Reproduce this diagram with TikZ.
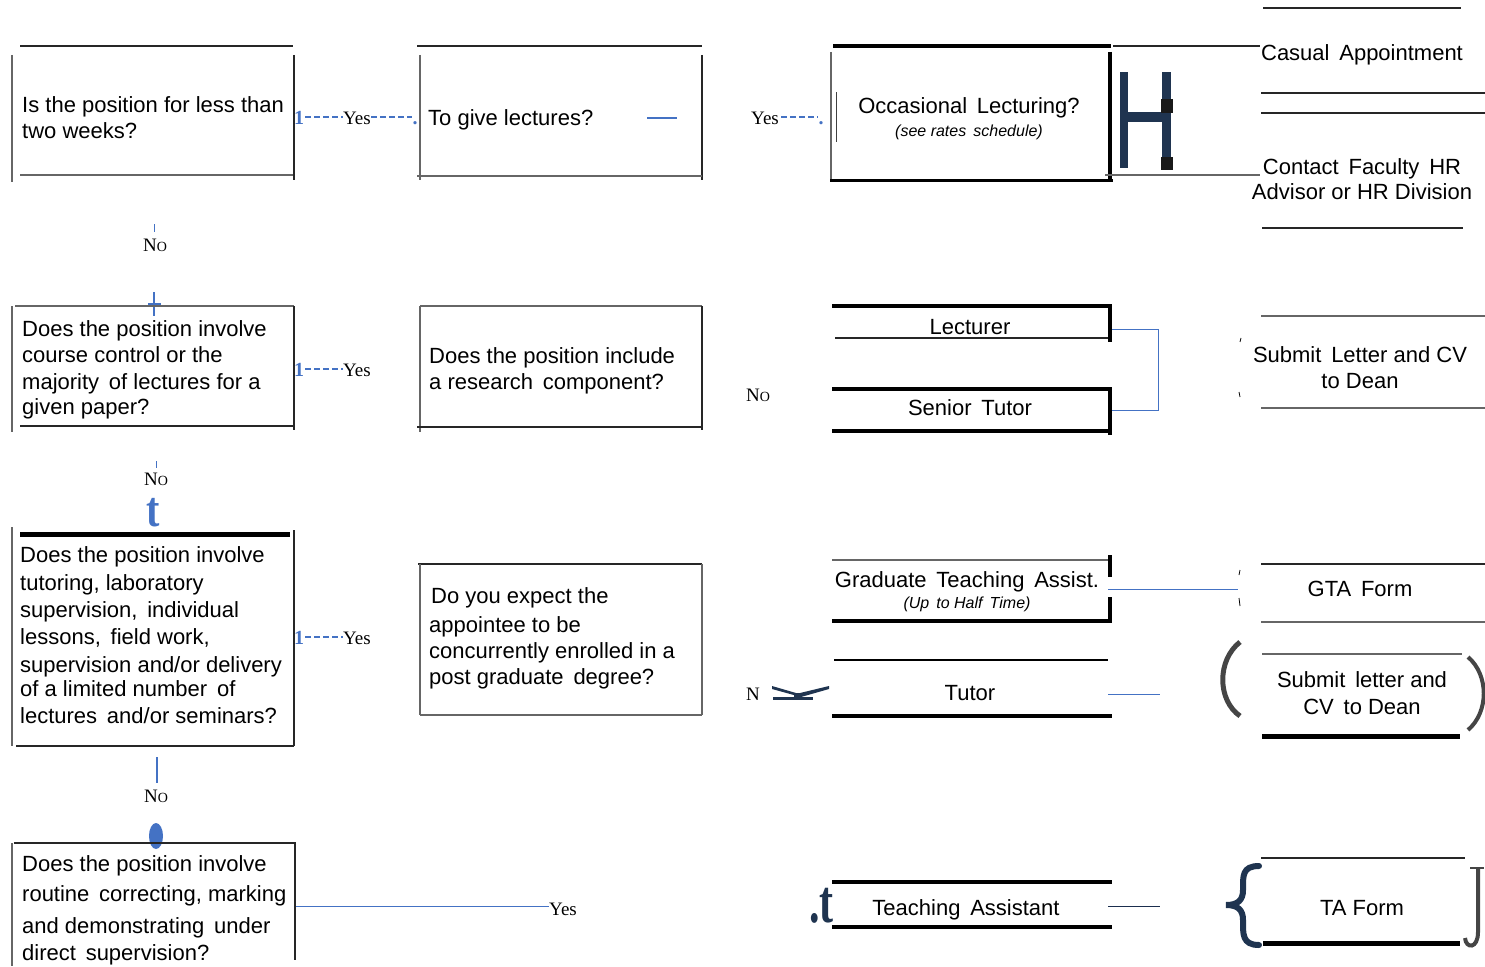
\documentclass[tikz,border=0pt]{standalone}
\usepackage{fontspec}
\setmainfont{Liberation Sans}
\newfontfamily\serifface{Liberation Serif}
\definecolor{cblue}{HTML}{4472C4}
\definecolor{navy}{HTML}{1F3450}
\definecolor{dgray}{HTML}{454545}
\begin{document}
\begin{tikzpicture}[x=1pt,y=-1pt,
  txt/.style={font=\fontsize{22}{26}\selectfont, inner sep=0pt},
  lt/.style={txt, anchor=base west},
  ct/.style={txt, anchor=base},
  it/.style={font=\fontsize{16}{19}\selectfont\itshape, inner sep=0pt, anchor=base},
  lbl/.style={font=\serifface\fontsize{19}{19}\selectfont, inner sep=0pt, anchor=base},
  onel/.style={font=\serifface\bfseries\fontsize{20}{20}\selectfont, inner sep=0pt, anchor=base, text=cblue},
  thinl/.style={line width=1.2pt, black!85},
  grayl/.style={line width=1.2pt, black!60},
  conn/.style={cblue, line width=1pt},
  dconn/.style={cblue, line width=1.6pt, dash pattern=on 6pt off 3pt},
  bluestroke/.style={cblue, line width=2.6pt},
]
\useasboundingbox (0,0) rectangle (1485,966);

% ---------- Box 1 ----------
\draw[thinl] (20,46) -- (293,46);
\draw[grayl] (12,55) -- (12,182);
\draw[thinl] (294,55) -- (294,180);
\draw[grayl] (20,175) -- (293,175);
\node[lt] (q1a) at (22,112) {Is the position for less than};
\node[lt] (q1b) at (22,138) {two weeks?};

\node[onel] (one1) at (299,124) {1};
\node[lbl] (yes1) at (357,124) {Yes};
\node[onel] (dot1) at (415,124) {.};
\coordinate (d1) at (305,117);
\draw[dconn] (d1) -- (yes1.west |- d1);
\draw[dconn] (yes1.east |- d1) -- (dot1.west |- d1);

% ---------- Box 2 ----------
\draw[thinl] (417,46) -- (702,46);
\draw[grayl] (420,55) -- (420,180);
\draw[thinl] (702,55) -- (702,180);
\draw[grayl] (417,176) -- (702,176);
\node[lt] (q2) at (428,125) {To give lectures?};
\coordinate (s2a) at (647,118);
\coordinate (s2b) at (677,118);
\draw[conn, line width=1.5pt] (s2a) -- (s2b);

\node[lbl] (yes2) at (765,124) {Yes};
\node[onel] (dot2) at (821,124) {.};
\coordinate (d2) at (781,117);
\draw[dconn] (d2) -- (dot2.west |- d2);

% ---------- Occasional Lecturing ----------
\draw[line width=4pt] (833,46) -- (1111,46);
\draw[grayl] (831,52) -- (831,180);
\draw[line width=1pt, black!75] (836,92) -- (836,142);
\draw[line width=4pt] (1110,52) -- (1110,182);
\draw[line width=3pt] (830,180) -- (1113,180);
\node[ct] (occ) at (969,113) {Occasional\, Lecturing?};
\node[it] (occs) at (969,136) {(see rates\, schedule)};
\draw[thinl] (1113,46) -- (1260,46);
\draw[grayl] (1105,175) -- (1260,175);

% H glyph
\fill[navy] (1120,72) rectangle (1128,168);
\fill[navy] (1162,72) rectangle (1171,168);
\fill[navy] (1128,112) rectangle (1162,122);
\fill[black!90] (1161,99) rectangle (1173,113);
\fill[black!90] (1161,157) rectangle (1173,170);

% right top
\draw[thinl] (1263,8) -- (1461,8);
\node[ct] (casual) at (1362,61) {Casual\, Appointment};
\draw[thinl] (1261,93) -- (1485,93);
\draw[thinl] (1261,113) -- (1485,113);
\node[ct] (contact1) at (1362,174) {Contact\, Faculty\, HR};
\node[ct] (contact2) at (1362,199) {Advisor or HR Division};
\draw[thinl] (1262,228) -- (1463,228);

% No 1
\draw[conn] (154,224) -- (154,232);
\node[lbl] (no1) at (155,251) {N{\fontsize{14}{14}\selectfont O}};
\draw[bluestroke] (154,292) -- (154,316);
\draw[bluestroke] (148,304) -- (161,304);

% ---------- Box 3 ----------
\draw[grayl] (15,306) -- (294,306);
\draw[grayl] (12,306) -- (12,432);
\draw[thinl] (294,306) -- (294,430);
\draw[thinl] (20,426) -- (293,426);
\node[lt] (q3a) at (22,336) {Does the position involve};
\node[lt] (q3b) at (22,362) {course control or the};
\node[lt] (q3c) at (22,389) {majority\, of lectures for a};
\node[lt] (q3d) at (22,414) {given paper?};

\node[onel] (one3) at (299,376) {1};
\node[lbl] (yes3) at (357,376) {Yes};
\coordinate (d3) at (305,369);
\draw[dconn] (d3) -- (yes3.west |- d3);

% ---------- Box 4 ----------
\draw[grayl] (420,306) -- (702,306);
\draw[grayl] (420,306) -- (420,432);
\draw[thinl] (702,306) -- (702,430);
\draw[thinl] (417,427) -- (702,427);
\node[lt] (q4a) at (429,363) {Does the position include};
\node[lt] (q4b) at (429,389) {a research\, component?};

\node[lbl] (no2) at (758,401) {N{\fontsize{14}{14}\selectfont O}};

% Lecturer / Senior Tutor
\draw[line width=4pt] (832,306) -- (1110,306);
\draw[line width=4pt] (1110,304) -- (1110,342);
\draw[thinl] (835,338) -- (1108,338);
\node[ct] (lect) at (970,334) {Lecturer};
\draw[line width=4pt] (832,389) -- (1110,389);
\draw[line width=4pt] (1110,387) -- (1110,435);
\draw[line width=4pt] (832,431) -- (1112,431);
\node[ct] (stutor) at (970,415) {Senior\, Tutor};
\coordinate (lr) at (1112,329);
\coordinate (sr) at (1112,410);
\draw[conn] (lr) -- (1158,329) -- (1158,410) -- (sr);

% Submit Letter and CV
\draw[grayl] (1261,316) -- (1485,316);
\draw[grayl] (1261,408) -- (1485,408);
\node[ct] (sub1a) at (1360,362) {Submit\, Letter and CV};
\node[ct] (sub1b) at (1360,388) {to Dean};
\draw[line width=0.8pt] (1240,342) -- (1241,338);
\draw[line width=0.8pt] (1239,392) -- (1240,397);

% No 3
\draw[conn] (156,461) -- (156,468);
\node[lbl] (no3) at (156,485) {N{\fontsize{14}{14}\selectfont O}};
\node[inner sep=0pt, anchor=base, text=cblue, font=\serifface\bfseries\fontsize{40}{40}\selectfont] (tglyph) at (153,526) {\scalebox{1}[1.25]{t}};

% ---------- Box 5 ----------
\draw[line width=5pt] (20,534) -- (290,534);
\draw[grayl] (12,527) -- (12,746);
\draw[thinl] (294,530) -- (294,746);
\draw[thinl] (16,746) -- (294,746);
\node[lt] (q5a) at (20,562) {Does the position involve};
\node[lt] (q5b) at (20,590) {tutoring, laboratory};
\node[lt] (q5c) at (20,617) {supervision,\, individual};
\node[lt] (q5d) at (20,644) {lessons,\, field work,};
\node[lt] (q5e) at (20,672) {supervision and/or delivery};
\node[lt] (q5f) at (20,696) {of a limited number\, of};
\node[lt] (q5g) at (20,723) {lectures\, and/or seminars?};

\node[onel] (one5) at (299,644) {1};
\node[lbl] (yes5) at (357,644) {Yes};
\coordinate (d5) at (305,637);
\draw[dconn] (d5) -- (yes5.west |- d5);

% ---------- Box 6 ----------
\draw[thinl] (418,564) -- (702,564);
\draw[grayl] (420,564) -- (420,715);
\draw[grayl] (702,564) -- (702,715);
\draw[grayl] (420,715) -- (702,715);
\node[lt] (q6a) at (431,603) {Do you expect the};
\node[lt] (q6b) at (429,632) {appointee to be};
\node[lt] (q6c) at (429,658) {concurrently enrolled in a};
\node[lt] (q6d) at (429,684) {post graduate\, degree?};

% GTA
\draw[grayl] (832,560) -- (1108,560);
\draw[line width=4pt] (1110,555) -- (1110,577);
\draw[line width=4pt] (1110,597) -- (1110,623);
\draw[line width=4pt] (832,621) -- (1112,621);
\node[ct] (gta) at (967,587) {Graduate\, Teaching\, Assist.};
\node[it] (gtas) at (967,608) {(Up\, to Half\, Time)};
\coordinate (gtar) at (1108,589);
\coordinate (gtaf) at (1238,589);
\draw[conn] (gtar) -- (gtaf);
\draw[thinl] (1261,564) -- (1485,564);
\draw[grayl] (1261,622) -- (1485,622);
\node[ct] (gtaform) at (1360,596) {GTA\, Form};
\draw[line width=0.8pt] (1239,575) -- (1240,570);
\draw[line width=0.8pt] (1239,598) -- (1240,606);

% Tutor
\draw[line width=1.6pt] (834,660) -- (1108,660);
\draw[line width=4pt] (832,716) -- (1112,716);
\node[ct] (tutor) at (970,700) {Tutor};
\node[lbl, anchor=base west] (n4) at (746,700) {N};
\fill[navy] (772,686) -- (796,693) -- (800,693) -- (829,686) -- (829,689) -- (801,697) -- (772,689) -- cycle;
\fill[navy] (794,693) rectangle (802,698);
\fill[navy] (773,697) rectangle (813,700);
\coordinate (tutr) at (1108,694);
\coordinate (tutr2) at (1160,694);
\draw[conn] (tutr) -- (tutr2);

% Submit letter and CV (2)
\draw[dgray, line width=5pt] (1240,642) .. controls (1217,660) and (1217,700) .. (1240,716);
\draw[grayl] (1262,654) -- (1462,654);
\draw[line width=5pt] (1262,736) -- (1460,736);
\node[ct] (sub2a) at (1362,687) {Submit\, letter and};
\node[ct] (sub2b) at (1362,714) {CV\, to Dean};
\draw[dgray, line width=4pt] (1468,657) .. controls (1489,675) and (1489,712) .. (1468,730);

% No 4
\draw[bluestroke] (157,757) -- (157,783);
\node[lbl] (no4) at (156,802) {N{\fontsize{14}{14}\selectfont O}};
\fill[cblue] (156,836) ellipse [x radius=7, y radius=13];

% ---------- Box 7 ----------
\draw[thinl] (14,843) -- (296,843);
\draw[grayl] (12,843) -- (12,966);
\draw[thinl] (295,843) -- (295,960);
\node[lt] (q7a) at (22,871) {Does the position involve};
\node[lt] (q7b) at (22,901) {routine\, correcting, marking};
\node[lt] (q7c) at (22,933) {and demonstrating\, under};
\node[lt] (q7d) at (22,960) {direct\, supervision?};
\node[lbl] (yes7) at (563,915) {Yes};
\coordinate (q7r) at (296,906);
\draw[conn] (q7r) -- (yes7.west |- q7r);

% Teaching Assistant
\node[inner sep=0pt, anchor=base east, text=navy, font=\serifface\bfseries\fontsize{42}{42}\selectfont] (dott) at (834,922) {\scalebox{1}[1.45]{.t}};
\draw[line width=4pt] (832,882) -- (1112,882);
\draw[line width=4pt] (832,927) -- (1112,927);
\node[ct] (ta) at (966,915) {Teaching\, Assistant};
\coordinate (tar) at (1108,906);
\coordinate (tar2) at (1160,906);
\draw[conn, black!60!cblue] (tar) -- (tar2);

% TA Form
\draw[navy, line width=6pt, line cap=round] (1259,866) .. controls (1242,866) and (1243,876) .. (1243,890) .. controls (1243,900) and (1238,905) .. (1226,905) .. controls (1238,905) and (1243,910) .. (1243,920) .. controls (1243,934) and (1242,945) .. (1259,945);
\draw[thinl] (1261,858) -- (1465,858);
\draw[line width=5pt] (1263,943) -- (1460,943);
\node[ct] (taform) at (1362,915) {TA Form};
\draw[dgray, line width=4pt] (1478,868) -- (1478,932) .. controls (1478,949) and (1466,949) .. (1465,938);
\draw[dgray, line width=1.2pt] (1470,868) -- (1484,868);

\end{tikzpicture}
\end{document}
